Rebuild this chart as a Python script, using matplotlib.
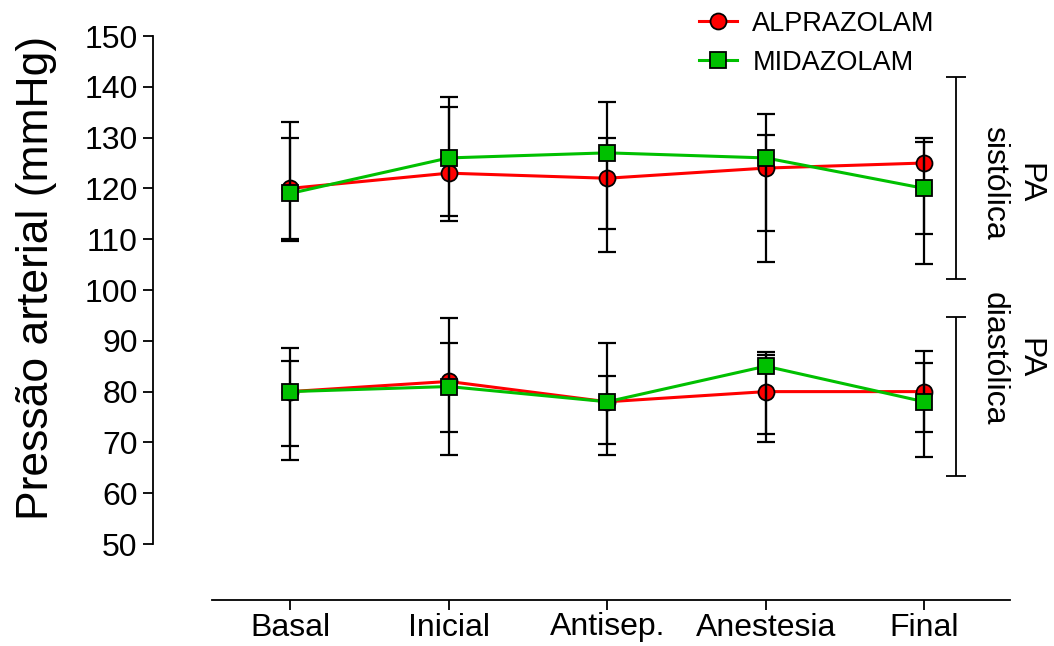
import numpy as np
import matplotlib.pyplot as plt

plt.rcParams['font.family'] = ['Liberation Sans', 'DejaVu Sans']

categories = ['Basal', 'Inicial', 'Antisep.', 'Anestesia', 'Final']

# PA sistolica
alp_sis = [120, 123, 122, 124, 125]
alp_sis_hi = [133, 136, 130, 130.6, 130]
alp_sis_lo = [110, 113.6, 107.5, 105.6, 111]
mid_sis = [119, 126, 127, 126, 120]
mid_sis_hi = [130, 138, 137, 134.6, 129.1]
mid_sis_lo = [109.6, 114.6, 112, 111.6, 105.2]

# PA diastolica
alp_dia = [80, 82, 78, 80, 80]
alp_dia_hi = [88.6, 94.5, 89.6, 87.3, 88]
alp_dia_lo = [66.6, 67.6, 67.6, 70.1, 67.1]
mid_dia = [80, 81, 78, 85, 78]
mid_dia_hi = [86.1, 89.6, 83.1, 87.7, 85.6]
mid_dia_lo = [69.2, 72, 69.6, 71.6, 72]

RED = '#ff0000'
GREEN = '#00c000'

fig = plt.figure(figsize=(10.54, 6.46), dpi=100)
ax = fig.add_axes([153 / 1054, 1 - 600 / 646, (1010 - 153) / 1054, (600 - 36) / 646])
x = np.arange(len(categories))


def draw(vals, color, marker, label, z):
    ax.plot(x, vals, color=color, lw=2.2, marker=marker, ms=11.5, mfc=color,
            mec='black', mew=1.3, label=label, zorder=z, clip_on=False)


def bars(vals, hi, lo):
    vals = np.array(vals)
    yerr = [vals - np.array(lo), np.array(hi) - vals]
    ax.errorbar(x, vals, yerr=yerr, fmt='none', ecolor='black', elinewidth=1.6,
                capsize=6.5, capthick=1.6, zorder=3, clip_on=False)


draw(alp_sis, RED, 'o', 'ALPRAZOLAM', 2)
draw(alp_dia, RED, 'o', None, 2)
for v, h, l in [(alp_sis, alp_sis_hi, alp_sis_lo), (mid_sis, mid_sis_hi, mid_sis_lo),
                (alp_dia, alp_dia_hi, alp_dia_lo), (mid_dia, mid_dia_hi, mid_dia_lo)]:
    bars(v, h, l)
draw(mid_sis, GREEN, 's', 'MIDAZOLAM', 4)
draw(mid_dia, GREEN, 's', None, 4)

ax.set_xlim(-0.864, 4.54)
ax.set_ylim(38.98, 150)
ax.set_yticks(np.arange(50, 151, 10))
ax.set_xticks(x)
ax.set_xticklabels(categories)
ax.tick_params(axis='both', labelsize=23, length=7, width=1.3, direction='out')
ax.tick_params(axis='x', pad=2)
ax.tick_params(axis='y', pad=4)
for s in ['top', 'right']:
    ax.spines[s].set_visible(False)
ax.spines['left'].set_bounds(50, 150)
ax.spines['bottom'].set_bounds(-0.49, 4.54)
for s in ['left', 'bottom']:
    ax.spines[s].set_linewidth(1.3)

ax.set_ylabel('Pressão arterial (mmHg)', fontsize=32)
ax.yaxis.set_label_coords(-0.112, 0.571)

# brackets
for lo, hi in [(102.2, 141.9), (63.4, 94.7)]:
    ax.errorbar([4.2], [(lo + hi) / 2], yerr=[[(hi - lo) / 2], [(hi - lo) / 2]], fmt='none',
                ecolor='black', elinewidth=1.3, capsize=7, capthick=1.3, clip_on=False)
ax.text(4.55, 121, 'PA\nsistólica', rotation=270, fontsize=23, ha='center', va='center',
        multialignment='center', linespacing=1.25, clip_on=False)
ax.text(4.55, 86.5, 'PA\ndiastólica', rotation=270, fontsize=23, ha='center', va='center',
        multialignment='center', linespacing=1.25, clip_on=False)

ax.legend(loc='upper left', bbox_to_anchor=(0.625, 1.064), frameon=False, fontsize=19.5,
          handlelength=1.4, handletextpad=0.55, labelspacing=0.48, borderaxespad=0)

fig.savefig('out.png', dpi=100)
